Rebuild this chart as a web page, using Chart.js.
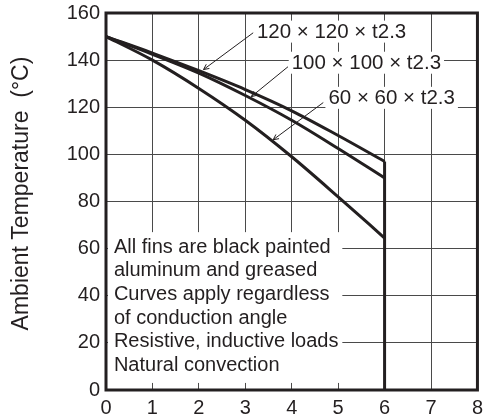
<!DOCTYPE html>
<html>
<head>
<meta charset="utf-8">
<script src="https://cdn.jsdelivr.net/npm/chart.js@4/dist/chart.umd.min.js"></script>
<style>
  html, body { margin: 0; padding: 0; background: #fff; }
  #wrap { width: 489px; height: 418px; }
</style>
</head>
<body>
<div id="wrap"><canvas id="derating-chart" width="489" height="418"></canvas></div>
<script>
// Derating curves: ambient temperature vs. current, by heat sink size

const currentSteps = [0, 1, 2, 3, 4, 5, 6];
const fin120 = [150, 143, 135.5, 127.5, 118.5, 108, 97];
const fin100 = [150, 142.5, 134.5, 125, 114.5, 102.5, 90];
const fin60 = [150, 140, 128, 114.5, 99, 82, 64.5];
const cutoffX = [6, 6];
const cutoffY = [97, 0];

const xTicks = [0, 1, 2, 3, 4, 5, 6, 7, 8];
const yTicks = [0, 20, 40, 60, 80, 100, 120, 140, 160];

const yTitle = 'Ambient Temperature  (\u00b0C)';
const finLabels = ['120 \u00d7 120 \u00d7 t2.3', '100 \u00d7 100 \u00d7 t2.3', '60 \u00d7 60 \u00d7 t2.3'];
const notes = [
  'All fins are black painted',
  'aluminum and greased',
  'Curves apply regardless',
  'of conduction angle',
  'Resistive, inductive loads',
  'Natural convection'
];

const FONT = "'Liberation Sans', Arial, sans-serif";
const INK = '#231f20';

const toPoints = (xs, ys) => xs.map((x, i) => ({ x: x, y: ys[i] }));

const curveStyle = {
  borderColor: INK,
  borderWidth: 3,
  pointRadius: 0,
  fill: false,
  tension: 0.3,
  cubicInterpolationMode: 'monotone'
};

// Annotation layout (data coordinates): label text start, leader from/to
const labelSpots = [
  { x: 3.25, y: 152.1, from: [3.17, 151.6], to: [2.1, 136] },
  { x: 4.0, y: 138.9, from: [3.92, 137.2], to: [3.13, 124.5] },
  { x: 4.79, y: 124.0, from: [4.68, 122.0], to: [3.6, 106.2] }
];

function arrowHead(ctx, x1, y1, x2, y2) {
  const a = Math.atan2(y2 - y1, x2 - x1);
  const len = 6;
  ctx.beginPath();
  ctx.moveTo(x2 - len * Math.cos(a - 0.45), y2 - len * Math.sin(a - 0.45));
  ctx.lineTo(x2, y2);
  ctx.lineTo(x2 - len * Math.cos(a + 0.45), y2 - len * Math.sin(a + 0.45));
  ctx.stroke();
}

const annotationPlugin = {
  id: 'annotations',
  beforeDatasetsDraw(chart) {
    const { ctx, scales } = chart;
    const xs = scales.x, ys = scales.y;
    ctx.save();
    ctx.textBaseline = 'middle';
    ctx.textAlign = 'left';

    // notes block
    const nx = xs.getPixelForValue(0) + 2;
    const top = ys.getPixelForValue(67);
    const bottom = ys.getPixelForValue(3);
    ctx.fillStyle = '#fff';
    ctx.fillRect(nx, top, xs.getPixelForValue(5.09) - nx, bottom - top);
    ctx.fillStyle = INK;
    ctx.font = '20px ' + FONT;
    const firstLine = ys.getPixelForValue(60.6);
    notes.forEach((line, i) => {
      ctx.fillText(line, xs.getPixelForValue(0.17), firstLine + i * 23.6);
    });

    // fin size labels with leaders
    ctx.font = '20.5px ' + FONT;
    labelSpots.forEach((s, i) => {
      const px = xs.getPixelForValue(s.x);
      const py = ys.getPixelForValue(s.y);
      const w = ctx.measureText(finLabels[i]).width;
      ctx.fillStyle = '#fff';
      ctx.fillRect(px - 3, py - 11, w + 6, 22);
      ctx.fillStyle = INK;
      ctx.fillText(finLabels[i], px, py + 1);
      const x1 = xs.getPixelForValue(s.from[0]), y1 = ys.getPixelForValue(s.from[1]);
      const x2 = xs.getPixelForValue(s.to[0]), y2 = ys.getPixelForValue(s.to[1]);
      ctx.strokeStyle = INK;
      ctx.lineWidth = 1;
      ctx.beginPath();
      ctx.moveTo(x1, y1);
      ctx.lineTo(x2, y2);
      ctx.stroke();
      arrowHead(ctx, x1, y1, x2, y2);
    });
    ctx.restore();
  },
  afterDatasetsDraw(chart) {
    // frame on top of everything
    const { ctx, chartArea } = chart;
    ctx.save();
    ctx.strokeStyle = INK;
    ctx.lineWidth = 3;
    ctx.strokeRect(chartArea.left, chartArea.top, chartArea.right - chartArea.left, chartArea.bottom - chartArea.top);

    // y axis title, sitting a little above the plot's middle like the original
    const midY = (chartArea.top + chartArea.bottom) / 2 - 8;
    ctx.translate(22, midY);
    ctx.rotate(-Math.PI / 2);
    ctx.font = '23px ' + FONT;
    ctx.fillStyle = INK;
    ctx.textAlign = 'center';
    ctx.textBaseline = 'middle';
    ctx.fillText(yTitle, 0, 0);
    ctx.restore();
  }
};

const tickFont = { family: FONT, size: 20 };

new Chart(document.getElementById('derating-chart'), {
  type: 'line',
  data: {
    datasets: [
      Object.assign({ label: finLabels[0], data: toPoints(currentSteps, fin120) }, curveStyle),
      Object.assign({ label: finLabels[1], data: toPoints(currentSteps, fin100) }, curveStyle),
      Object.assign({ label: finLabels[2], data: toPoints(currentSteps, fin60) }, curveStyle),
      Object.assign({ label: 'cutoff', data: toPoints(cutoffX, cutoffY) }, curveStyle, { tension: 0 })
    ]
  },
  options: {
    responsive: false,
    animation: false,
    layout: { padding: { top: 0, right: 2, bottom: 0, left: 0 } },
    plugins: {
      legend: { display: false },
      tooltip: { enabled: false }
    },
    scales: {
      x: {
        type: 'linear',
        min: 0,
        max: 8,
        afterBuildTicks: (scale) => { scale.ticks = xTicks.map(v => ({ value: v })); },
        ticks: { font: tickFont, color: INK, padding: 6, maxRotation: 0 },
        grid: { color: '#4a4a4a', lineWidth: 1, drawTicks: false },
        border: { display: false },
        afterFit: (scale) => { scale.height = 28; }
      },
      y: {
        type: 'linear',
        min: 0,
        max: 160,
        afterBuildTicks: (scale) => { scale.ticks = yTicks.map(v => ({ value: v })); },
        ticks: { font: tickFont, color: INK, padding: 6 },
        grid: { color: '#4a4a4a', lineWidth: 1, drawTicks: false },
        border: { display: false },
        afterFit: (scale) => {
          scale.width = 106;
          scale.paddingTop = 13;
        }
      }
    }
  },
  plugins: [annotationPlugin]
});
</script>
</body>
</html>
